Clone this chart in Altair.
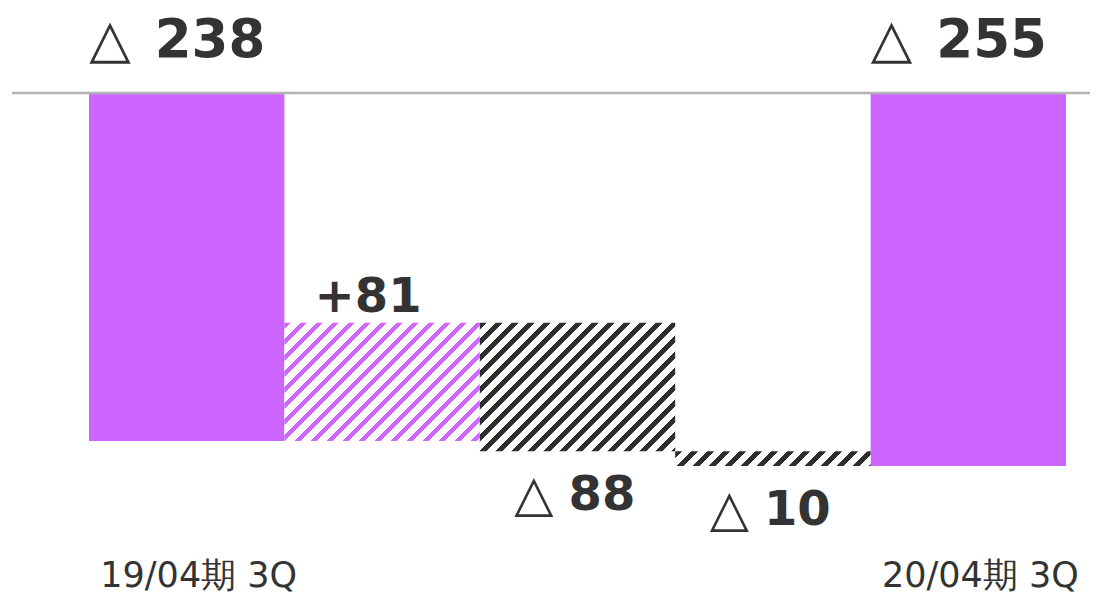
import altair as alt
import pandas as pd

# ---- data ----
categories = ["19/04期 3Q", "増収効果", "費用増加", "その他", "20/04期 3Q"]
values = [-238, 81, -88, -10, -255]
kinds = ["total", "up", "down", "down", "total"]
shown_labels = ["19/04期 3Q", "20/04期 3Q"]

# ---- layout / style constants ----
PLOT_W, PLOT_H = 1078, 450
Y_MIN = -307.65
PURPLE = "#CC66FF"
DARK = "#2E2E2E"
TEXT = "#333333"
FONT = "DejaVu Sans"

# waterfall table
rows = []
running = 0
for i, (c, v, k) in enumerate(zip(categories, values, kinds)):
    if k == "total":
        s, e = 0, v
    else:
        s, e = running, running + v
    running = e
    rows.append(dict(idx=i, cat=c, kind=k, start=s, end=e,
                     ytop=max(s, e), ybot=min(s, e),
                     sign="+" if v > 0 else "△", num=str(abs(v)),
                     full=("+" if v > 0 else "△") + str(abs(v))))
df = pd.DataFrame(rows)

# scales
step = 195.4
xscale = alt.Scale(domain=categories, paddingInner=0,
                   paddingOuter=(PLOT_W / step - len(categories)) / 2,
                   align=77 / (PLOT_W - step * len(categories)))
yscale = alt.Scale(domain=[Y_MIN, 0], nice=False, zero=False)
px_per_unit = PLOT_H / (0 - Y_MIN)

label_expr = "indexof([" + ",".join("'" + s + "'" for s in shown_labels) + "], datum.value) >= 0 ? datum.label : ''"
X = alt.X("cat:N", scale=xscale,
          axis=alt.Axis(title=None, labelExpr=label_expr, domain=False, ticks=False,
                        tickSize=0, grid=False, labelPadding=32, labelBaseline="middle",
                        labelFontSize=35, labelFont=FONT, labelColor=TEXT, labelAngle=0,
                        labelOffset=12, labelLimit=0, labelOverlap=False))


def hatch(color, h_px, w_px, period=16.0, dark=0.42):
    q = period / (w_px + h_px)
    r = h_px / w_px
    k = (1 + r) / (1 + r * r)
    stops = []
    i = 0
    while i * q < 1:
        a = round(i * q, 5)
        b = round(min((i + dark) * q, 1), 5)
        c = round(min((i + 1) * q, 1), 5)
        stops += [(a, color), (b, color), (b, "#FFFFFF"), (c, "#FFFFFF")]
        i += 1
    return alt.LinearGradient(gradient="linear",
                              stops=[alt.GradientStop(color=col, offset=o) for o, col in stops],
                              x1=0, y1=0, x2=k, y2=k * r)


layers = []
totals = alt.Chart(df).transform_filter("datum.kind == 'total'").mark_bar(color=PURPLE).encode(
    x=X, y=alt.Y("start:Q", scale=yscale, axis=None), y2="end:Q")
layers.append(totals)

for _, row in df[df.kind != "total"].iterrows():
    col = PURPLE if row["kind"] == "up" else DARK
    h_px = abs(row["end"] - row["start"]) * px_per_unit
    grad = hatch(col, h_px, step)
    layers.append(
        alt.Chart(df).transform_filter(f"datum.idx == {row['idx']}").mark_bar(color=grad).encode(
            x=X, y=alt.Y("start:Q", scale=yscale, axis=None), y2="end:Q"))

# baseline rule
rule = alt.Chart(pd.DataFrame({"y": [0]})).mark_rule(color="#B3B3B3", strokeWidth=2.5).encode(
    y=alt.Y("y:Q", scale=yscale, axis=None))
layers.append(rule)

# labels
tot_sign = alt.Chart(df).transform_filter("datum.kind == 'total'").mark_text(
    font=FONT, fontSize=54, fontWeight="normal", color=TEXT, align="right",
    baseline="middle", dx=-56, dy=-52).encode(
    x=X, y=alt.Y("ytop:Q", scale=yscale, axis=None), text="sign:N")
tot_num = alt.Chart(df).transform_filter("datum.kind == 'total'").mark_text(
    font=FONT, fontSize=53, fontWeight="bold", color=TEXT, align="left",
    baseline="middle", dx=-32, dy=-52).encode(
    x=X, y=alt.Y("ytop:Q", scale=yscale, axis=None), text="num:N")
up_lab = alt.Chart(df).transform_filter("datum.kind == 'up'").mark_text(
    font=FONT, fontSize=48, fontWeight="bold", color=TEXT, align="center",
    baseline="middle", dx=-14, dy=-25).encode(
    x=X, y=alt.Y("ytop:Q", scale=yscale, axis=None), text="full:N")
down_sign = alt.Chart(df).transform_filter("datum.kind == 'down'").mark_text(
    font=FONT, fontSize=51, fontWeight="normal", color=TEXT, align="right",
    baseline="middle", dx=-24, dy=45).encode(
    x=X, y=alt.Y("ybot:Q", scale=yscale, axis=None), text="sign:N")
down_num = alt.Chart(df).transform_filter("datum.kind == 'down'").mark_text(
    font=FONT, fontSize=48, fontWeight="bold", color=TEXT, align="left",
    baseline="middle", dx=-9, dy=45).encode(
    x=X, y=alt.Y("ybot:Q", scale=yscale, axis=None), text="num:N")
layers += [tot_sign, tot_num, up_lab, down_sign, down_num]

chart = alt.layer(*layers).properties(
    width=PLOT_W, height=PLOT_H,
    autosize=alt.AutoSizeParams(type="none"),
    padding={"left": 4, "top": 85, "right": 0, "bottom": 51},
).configure_view(stroke=None, strokeWidth=0)

chart.save("out.html", embed_options={"renderer": "svg", "actions": False})
